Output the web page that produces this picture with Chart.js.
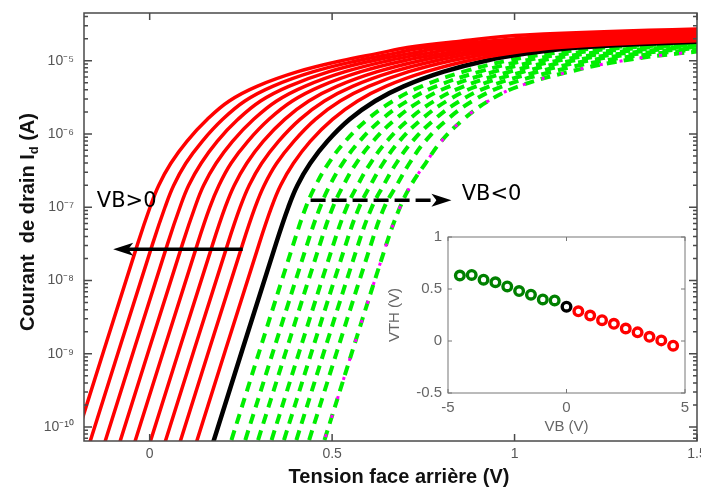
<!DOCTYPE html>
<html lang="fr">
<head>
<meta charset="UTF-8">
<title>Courant de drain - tension face arrière</title>
<script src="https://cdn.jsdelivr.net/npm/chart.js"></script>
<style>
  html, body { margin: 0; padding: 0; background: #fff; }
  #wrap { position: relative; width: 701px; height: 489px; }
  #mainChart { position: absolute; left: 0; top: 0; }
  #insetChart { position: absolute; left: 380px; top: 225px; }
</style>
</head>
<body>
<div id="wrap">
  <canvas id="mainChart" width="701" height="489"></canvas>
  <canvas id="insetChart" width="316" height="215"></canvas>
</div>
<script>
var levels = [-10.4, -7.5, -7, -6.7, -6.4, -6.1, -5.8, -5.55, -5.35, -5.15, -5.0, -4.9, -4.82, -4.74, -4.65, -4.55, -4.45];

// tension face arrière (V) reached by each curve at those levels
var vBlack = [0.162, 0.346, 0.380, 0.405, 0.440, 0.487, 0.548, 0.618, 0.696, 0.806, 0.921, 1.036, 1.176, 1.5, 2.2];

// VB > 0 : +0.5 ... +4.5 V
var vRed = [
  [0.116, 0.300, 0.334, 0.359, 0.394, 0.440, 0.501, 0.570, 0.647, 0.758, 0.873, 0.986, 1.119, 1.420, 2.058, 2.837, 3.831],
  [0.071, 0.255, 0.289, 0.314, 0.348, 0.395, 0.454, 0.522, 0.600, 0.710, 0.826, 0.938, 1.063, 1.342, 1.919, 2.676, 3.664],
  [0.030, 0.214, 0.248, 0.273, 0.307, 0.353, 0.412, 0.479, 0.556, 0.667, 0.784, 0.893, 1.012, 1.270, 1.793, 2.530, 3.513],
  [-0.011, 0.173, 0.207, 0.232, 0.266, 0.311, 0.370, 0.436, 0.513, 0.624, 0.741, 0.849, 0.962, 1.199, 1.666, 2.384, 3.362],
  [-0.053, 0.131, 0.165, 0.190, 0.223, 0.269, 0.327, 0.391, 0.468, 0.579, 0.697, 0.804, 0.910, 1.126, 1.537, 2.235, 3.206],
  [-0.094, 0.090, 0.124, 0.148, 0.182, 0.227, 0.285, 0.348, 0.425, 0.536, 0.654, 0.759, 0.859, 1.054, 1.410, 2.089, 3.055],
  [-0.135, 0.049, 0.083, 0.107, 0.141, 0.185, 0.242, 0.304, 0.381, 0.492, 0.611, 0.715, 0.808, 0.983, 1.283, 1.942, 2.902],
  [-0.176, 0.008, 0.042, 0.066, 0.099, 0.144, 0.200, 0.261, 0.337, 0.449, 0.569, 0.670, 0.757, 0.911, 1.156, 1.796, 2.751],
  [-0.217, -0.033, 0.001, 0.025, 0.058, 0.102, 0.158, 0.218, 0.294, 0.406, 0.526, 0.626, 0.706, 0.840, 1.030, 1.650, 2.600]
];

// VB < 0 : -0.5 ... -4 V (the last one also carries the magenta dots)
var vGreen = [
  [0.210, 0.394, 0.428, 0.455, 0.490, 0.536, 0.597, 0.667, 0.745, 0.860, 0.980, 1.101, 1.250, 1.579, 2.294],
  [0.248, 0.432, 0.467, 0.494, 0.529, 0.575, 0.636, 0.706, 0.785, 0.904, 1.027, 1.153, 1.309, 1.642, 2.370],
  [0.283, 0.467, 0.502, 0.531, 0.566, 0.612, 0.673, 0.742, 0.822, 0.944, 1.071, 1.202, 1.364, 1.700, 2.440],
  [0.320, 0.504, 0.540, 0.570, 0.605, 0.650, 0.711, 0.780, 0.861, 0.986, 1.117, 1.253, 1.422, 1.762, 2.514],
  [0.354, 0.538, 0.574, 0.605, 0.640, 0.684, 0.745, 0.814, 0.895, 1.024, 1.158, 1.299, 1.474, 1.817, 2.580],
  [0.388, 0.572, 0.609, 0.641, 0.676, 0.720, 0.781, 0.850, 0.931, 1.064, 1.201, 1.346, 1.527, 1.874, 2.648],
  [0.423, 0.607, 0.643, 0.677, 0.712, 0.755, 0.816, 0.885, 0.967, 1.103, 1.244, 1.393, 1.580, 1.930, 2.716],
  [0.465, 0.649, 0.686, 0.716, 0.756, 0.799, 0.860, 0.928, 1.011, 1.151, 1.296, 1.451, 1.646, 2.000, 2.800]
];

var xTicks = [0, 0.5, 1, 1.5];
var xTickLabels = ['0', '0.5', '1', '1.5'];
var yTicks = [1e-10, 1e-9, 1e-8, 1e-7, 1e-6, 1e-5];

// inset: VTH vs VB
var vbNeg = [-4.5, -4, -3.5, -3, -2.5, -2, -1.5, -1, -0.5];
var vthNeg = [0.63, 0.635, 0.59, 0.565, 0.525, 0.48, 0.445, 0.40, 0.39];
var vbZero = [0];
var vthZero = [0.33];
var vbPos = [0.5, 1, 1.5, 2, 2.5, 3, 3.5, 4, 4.5];
var vthPos = [0.285, 0.245, 0.20, 0.165, 0.12, 0.083, 0.04, 0.006, -0.045];
var insetXTicks = [-5, 0, 5];
var insetYTicks = [-0.5, 0, 0.5, 1];

var FONT = "'Liberation Sans', Arial, sans-serif";
var SUP = { '-': '\u207B', '0': '\u2070', '1': '\u00B9', '2': '\u00B2', '3': '\u00B3', '4': '\u2074',
            '5': '\u2075', '6': '\u2076', '7': '\u2077', '8': '\u2078', '9': '\u2079' };

function supLabel(v) {
  var n = String(Math.round(Math.log10(v)));
  return '10' + n.split('').map(function(c) { return SUP[c]; }).join('');
}

function curve(vs, color, width, dash, order) {
  return {
    data: vs.map(function(v, i) { return { x: v, y: Math.pow(10, levels[i]) }; }),
    borderColor: color,
    borderWidth: width,
    borderDash: dash,
    pointRadius: 0,
    fill: false,
    tension: 0.4,
    clip: 0,
    order: order
  };
}

var datasets = [];
vGreen.forEach(function(v) { datasets.push(curve(v, '#00ee00', 4, [10, 7], 3)); });
datasets.push(curve(vBlack, '#000000', 4.5, [], 2));
vRed.forEach(function(v) { datasets.push(curve(v, '#ff0000', 3.5, [], 1)); });
datasets.push(curve(vGreen[vGreen.length - 1], '#ff00ff', 3, [3, 17], 0));

function arrow(ctx, x0, y0, x1, y1, dash) {
  var dir = x1 > x0 ? 1 : -1;
  ctx.save();
  ctx.strokeStyle = '#000';
  ctx.fillStyle = '#000';
  ctx.lineWidth = 3.5;
  ctx.setLineDash(dash);
  ctx.beginPath();
  ctx.moveTo(x0, y0);
  ctx.lineTo(x1 - dir * 14, y1);
  ctx.stroke();
  ctx.setLineDash([]);
  ctx.beginPath();
  ctx.moveTo(x1, y1);
  ctx.lineTo(x1 - dir * 20, y1 - 6.5);
  ctx.lineTo(x1 - dir * 15, y1);
  ctx.lineTo(x1 - dir * 20, y1 + 6.5);
  ctx.closePath();
  ctx.fill();
  ctx.restore();
}

var mainDecor = {
  id: 'mainDecor',
  afterDraw: function(chart) {
    var ctx = chart.ctx, a = chart.chartArea, xs = chart.scales.x, ys = chart.scales.y;
    ctx.save();
    ctx.strokeStyle = '#4a4a4a';
    ctx.lineWidth = 1.5;
    ctx.strokeRect(a.left, a.top, a.right - a.left, a.bottom - a.top);
    ctx.beginPath();
    xTicks.forEach(function(v) {
      var px = xs.getPixelForValue(v);
      ctx.moveTo(px, a.bottom); ctx.lineTo(px, a.bottom - 7);
      ctx.moveTo(px, a.top); ctx.lineTo(px, a.top + 7);
    });
    for (var n = -11; n <= -4; n++) {
      for (var k = 1; k <= 9; k++) {
        var v = k * Math.pow(10, n);
        if (v < ys.min || v > ys.max) continue;
        var py = ys.getPixelForValue(v), len = k === 1 ? 8 : 4;
        ctx.moveTo(a.left, py); ctx.lineTo(a.left + len, py);
        ctx.moveTo(a.right, py); ctx.lineTo(a.right - len, py);
      }
    }
    ctx.stroke();

    // axis titles
    ctx.fillStyle = '#111';
    ctx.font = 'bold 20px ' + FONT;
    ctx.textAlign = 'center';
    ctx.textBaseline = 'middle';
    ctx.fillText('Tension face arri\u00E8re (V)', 399, 477);

    ctx.save();
    ctx.translate(27, 222);
    ctx.rotate(-Math.PI / 2);
    ctx.textAlign = 'left';
    ctx.textBaseline = 'alphabetic';
    var p1 = 'Courant  de drain I', p2 = 'd', p3 = ' (A)';
    ctx.font = 'bold 20px ' + FONT;
    var w1 = ctx.measureText(p1).width, w3 = ctx.measureText(p3).width;
    ctx.font = 'bold 13px ' + FONT;
    var w2 = ctx.measureText(p2).width;
    var x = -(w1 + w2 + w3) / 2;
    ctx.font = 'bold 20px ' + FONT;
    ctx.fillText(p1, x, 7);
    ctx.font = 'bold 13px ' + FONT;
    ctx.fillText(p2, x + w1, 11);
    ctx.font = 'bold 20px ' + FONT;
    ctx.fillText(p3, x + w1 + w2, 7);
    ctx.restore();

    // annotations
    ctx.fillStyle = '#000';
    ctx.font = "21px 'DejaVu Sans', sans-serif";
    ctx.textAlign = 'left';
    ctx.textBaseline = 'middle';
    ctx.fillText('VB>0', xs.getPixelForValue(-0.145), ys.getPixelForValue(1.21e-7));
    ctx.fillText('VB<0', xs.getPixelForValue(0.855), ys.getPixelForValue(1.5e-7));
    var yA = ys.getPixelForValue(2.67e-8);
    arrow(ctx, xs.getPixelForValue(0.255), yA, xs.getPixelForValue(-0.1), yA, []);
    var yB = ys.getPixelForValue(1.25e-7);
    arrow(ctx, xs.getPixelForValue(0.441), yB, xs.getPixelForValue(0.827), yB, [15, 6]);
    ctx.restore();
  }
};

new Chart(document.getElementById('mainChart'), {
  type: 'line',
  data: { datasets: datasets },
  options: {
    responsive: false,
    animation: false,
    layout: { padding: { left: 0, top: 13, right: 4, bottom: 0 } },
    plugins: { legend: { display: false }, tooltip: { enabled: false } },
    scales: {
      x: {
        type: 'linear', min: -0.18, max: 1.5,
        grid: { display: false, drawTicks: false }, border: { display: false },
        afterBuildTicks: function(s) { s.ticks = xTicks.map(function(v) { return { value: v }; }); },
        afterFit: function(s) { s.height = 48; s.paddingLeft = 0; s.paddingRight = 0; },
        ticks: {
          padding: 5, color: '#555', font: { family: FONT, size: 14 }, maxRotation: 0, autoSkip: false,
          callback: function(v) { return xTickLabels[xTicks.indexOf(v)]; }
        }
      },
      y: {
        type: 'logarithmic', min: 6.44e-11, max: 4.48e-5,
        grid: { display: false, drawTicks: false }, border: { display: false },
        afterBuildTicks: function(s) { s.ticks = yTicks.map(function(v) { return { value: v }; }); },
        afterFit: function(s) { s.width = 84; s.paddingTop = 0; s.paddingBottom = 0; },
        ticks: {
          padding: 10, color: '#555', font: { family: FONT, size: 14 }, autoSkip: false,
          callback: function(v) { return supLabel(v); }
        }
      }
    }
  },
  plugins: [mainDecor]
});

function pts(xs, ys) { return xs.map(function(x, i) { return { x: x, y: ys[i] }; }); }
function ring(xs, ys, color) {
  return {
    data: pts(xs, ys), borderColor: color, backgroundColor: '#fff',
    pointRadius: 4.3, pointBorderWidth: 3.4, showLine: false
  };
}

var insetDecor = {
  id: 'insetDecor',
  afterDraw: function(chart) {
    var ctx = chart.ctx, a = chart.chartArea, xs = chart.scales.x, ys = chart.scales.y;
    ctx.save();
    ctx.strokeStyle = '#777';
    ctx.lineWidth = 1;
    ctx.strokeRect(a.left, a.top, a.right - a.left, a.bottom - a.top);
    ctx.beginPath();
    insetXTicks.forEach(function(v) {
      var px = xs.getPixelForValue(v);
      ctx.moveTo(px, a.bottom); ctx.lineTo(px, a.bottom - 4);
      ctx.moveTo(px, a.top); ctx.lineTo(px, a.top + 4);
    });
    insetYTicks.forEach(function(v) {
      var py = ys.getPixelForValue(v);
      ctx.moveTo(a.left, py); ctx.lineTo(a.left + 4, py);
      ctx.moveTo(a.right, py); ctx.lineTo(a.right - 4, py);
    });
    ctx.stroke();
    ctx.fillStyle = '#666';
    ctx.font = '15px ' + FONT;
    ctx.textAlign = 'center';
    ctx.textBaseline = 'middle';
    ctx.fillText('VB (V)', (a.left + a.right) / 2, 202);
    ctx.translate(14.5, (a.top + a.bottom) / 2);
    ctx.rotate(-Math.PI / 2);
    ctx.fillText('VTH (V)', 0, 0);
    ctx.restore();
  }
};

new Chart(document.getElementById('insetChart'), {
  type: 'scatter',
  data: {
    datasets: [
      ring(vbNeg, vthNeg, '#008000'),
      ring(vbZero, vthZero, '#000000'),
      ring(vbPos, vthPos, '#ff0000')
    ]
  },
  options: {
    responsive: false,
    animation: false,
    layout: { padding: { left: 0, top: 12, right: 11, bottom: 0 } },
    plugins: { legend: { display: false }, tooltip: { enabled: false } },
    scales: {
      x: {
        type: 'linear', min: -5, max: 5,
        grid: { display: false, drawTicks: false }, border: { display: false },
        afterBuildTicks: function(s) { s.ticks = insetXTicks.map(function(v) { return { value: v }; }); },
        afterFit: function(s) { s.height = 47; s.paddingLeft = 0; s.paddingRight = 0; },
        ticks: {
          padding: 6, color: '#666', font: { family: FONT, size: 15 }, maxRotation: 0, autoSkip: false,
          callback: function(v) { return String(v); }
        }
      },
      y: {
        type: 'linear', min: -0.5, max: 1,
        grid: { display: false, drawTicks: false }, border: { display: false },
        afterBuildTicks: function(s) { s.ticks = insetYTicks.map(function(v) { return { value: v }; }); },
        afterFit: function(s) { s.width = 68; s.paddingTop = 0; s.paddingBottom = 0; },
        ticks: {
          padding: 6, color: '#666', font: { family: FONT, size: 15 }, autoSkip: false,
          callback: function(v) { return String(v); }
        }
      }
    }
  },
  plugins: [insetDecor]
});
</script>
</body>
</html>
